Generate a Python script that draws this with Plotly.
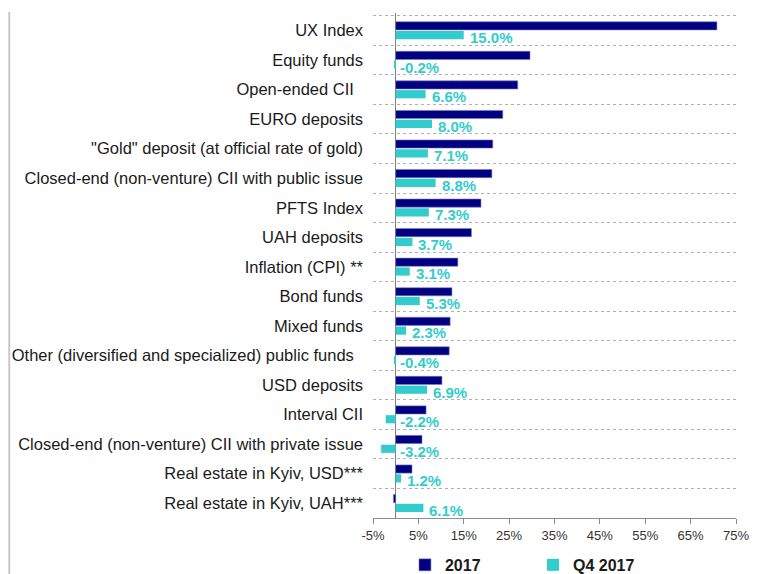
import plotly.graph_objects as go

# categories, top to bottom
categories = [
    "UX Index",
    "Equity funds",
    "Open-ended CII\u00a0\u00a0",
    "EURO deposits",
    "\"Gold\" deposit (at official rate of gold)",
    "Closed-end (non-venture) CII with public issue",
    "PFTS Index",
    "UAH deposits",
    "Inflation (CPI) **",
    "Bond funds",
    "Mixed funds",
    "Other (diversified and specialized) public funds\u00a0\u00a0",
    "USD deposits",
    "Interval CII",
    "Closed-end (non-venture) CII with private issue",
    "Real estate in Kyiv, USD***",
    "Real estate in Kyiv, UAH***",
]

# returns, %
y2017 = [70.8, 29.6, 26.9, 23.6, 21.4, 21.2, 18.8, 16.7, 13.7, 12.4, 12.0, 11.8, 10.2, 6.7, 5.8, 3.6, -0.5]
q4_2017 = [15.0, -0.2, 6.6, 8.0, 7.1, 8.8, 7.3, 3.7, 3.1, 5.3, 2.3, -0.4, 6.9, -2.2, -3.2, 1.2, 6.1]

x_ticks = [-5, 5, 15, 25, 35, 45, 55, 65, 75]
x_tick_labels = ["-5%", "5%", "15%", "25%", "35%", "45%", "55%", "65%", "75%"]

NAVY = "#000080"
CYAN = "#33CCCC"
FONT = "Liberation Sans, Arial, sans-serif"

fig = go.Figure()
fig.add_trace(go.Bar(
    y=categories, x=y2017, orientation="h", name="2017",
    marker=dict(color=NAVY, line=dict(color="#8080c0", width=0.6)),
))
fig.add_trace(go.Bar(
    y=categories, x=q4_2017, orientation="h", name="Q4 2017",
    marker=dict(color=CYAN, line=dict(width=0)),
))

# Q4 labels: right of the bar end (right of zero for negatives)
for cat, v in zip(categories, q4_2017):
    fig.add_annotation(
        x=max(v, 0), y=cat, text=f"{v:.1f}%",
        xanchor="left", yanchor="middle", xshift=4 if v > 0 else 2, yshift=-7,
        showarrow=False, font=dict(family=FONT, size=15, color=CYAN, weight="bold"),
    )

# page border line on the left
fig.add_shape(type="line", xref="paper", yref="paper",
              x0=-1.002, x1=-1.002, y0=1.002, y1=-0.12,
              line=dict(color="#c8c8c8", width=2))

# the page body adds 8px on the left and top, so the figure is 8px smaller
fig.update_layout(
    width=749, height=566, autosize=False,
    margin=dict(l=365, r=21, t=5, b=56),
    paper_bgcolor="white", plot_bgcolor="white",
    barmode="group", bargap=0.37, bargroupgap=0.12,
    font=dict(family=FONT, size=16, color="#1a1a1a"),
    showlegend=True,
    legend=dict(
        orientation="h", xref="container", yref="container",
        x=0.53, xanchor="left", y=0.016, yanchor="middle",
        font=dict(size=16, color="#1a1a1a", weight="bold"),
        entrywidth=83, itemwidth=30, traceorder="normal",
    ),
    xaxis=dict(
        range=[-5, 75], tickvals=x_ticks, ticktext=x_tick_labels,
        showgrid=False, zeroline=True, zerolinecolor="#808080", zerolinewidth=1,
        showline=True, linecolor="#8c8c8c", linewidth=1,
        ticks="outside", ticklen=5, tickcolor="#8c8c8c",
        tickfont=dict(size=13, color="#333333"), automargin=False,
        ticklabeloverflow="allow",
    ),
    yaxis=dict(
        autorange="reversed", tickson="boundaries",
        showgrid=True, gridcolor="#b0b0b0", griddash="dot", gridwidth=1,
        ticks="", showline=False, zeroline=False,
        ticklabelstandoff=9, automargin=False,
        tickfont=dict(size=16.5, color="#1a1a1a"),
    ),
)

fig.write_html("out.html")
